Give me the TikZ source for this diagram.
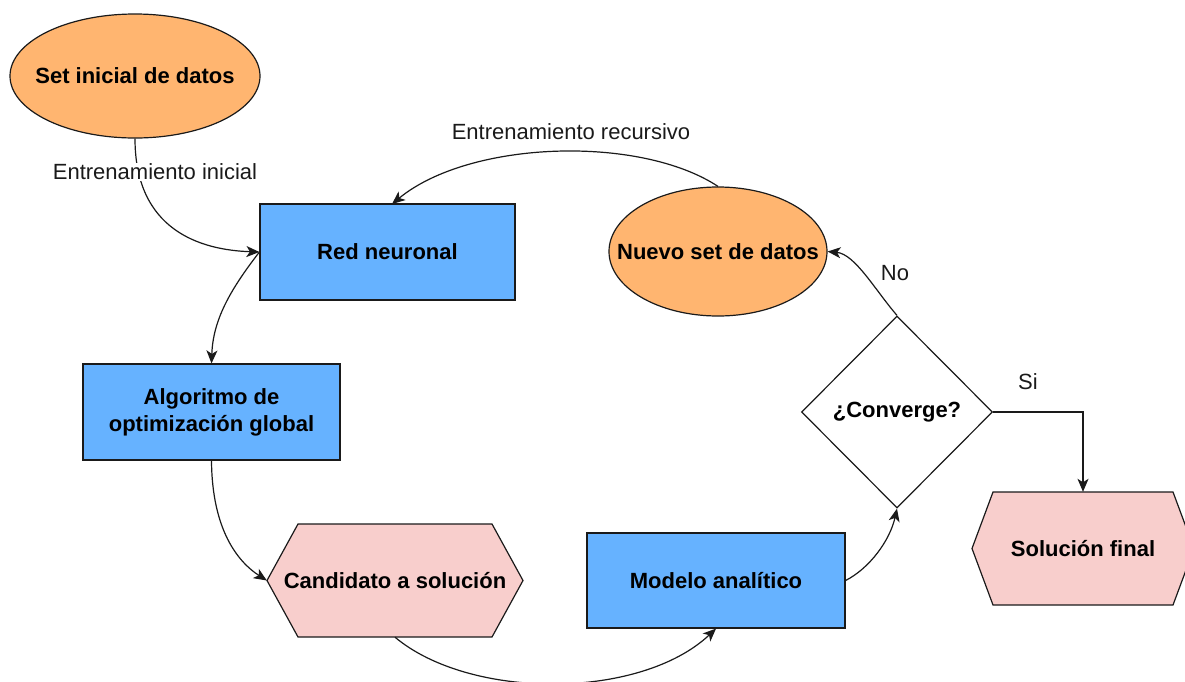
\documentclass[tikz,border=0pt]{standalone}
\usepackage{fontspec}
\setmainfont{Liberation Sans}
\usetikzlibrary{shapes.geometric,arrows.meta}
\definecolor{orangefill}{HTML}{FFB570}
\definecolor{bluefill}{HTML}{66B2FF}
\definecolor{pinkfill}{HTML}{F8CECC}
\definecolor{edgecol}{HTML}{1A1A1A}
\tikzset{
  base/.style={draw=edgecol, line width=1.2pt, inner sep=0pt, align=center,
    font=\fontsize{22}{27}\selectfont\bfseries, text=black},
  oval/.style={base, ellipse, fill=orangefill},
  ovaltext/.style={inner sep=0pt, font=\fontsize{22}{27}\selectfont\bfseries, text=black},
  box/.style={base, rectangle, fill=bluefill},
  decision/.style={base, diamond, fill=white},
  hexbody/.style={draw=edgecol, line width=1.2pt, fill=pinkfill},
  hexlabel/.style={rectangle, inner sep=0pt, align=center,
    font=\fontsize{22}{27}\selectfont\bfseries, text=black},
  conn/.style={draw=edgecol, line width=1.2pt, -{Stealth[length=13pt,width=11pt,inset=3.5pt]}},
  edgelabel/.style={inner sep=1pt, font=\fontsize{22}{27}\selectfont, text=edgecol},
}
\begin{document}
\begin{tikzpicture}[x=1pt, y=-1pt]
\path[use as bounding box] (0,0) rectangle (1185,681);

% nodes
\node[oval, minimum width=250pt, minimum height=124pt,
  label={[ovaltext]center:Set inicial de datos}] (setini) at (135,76) {};
\node[box, minimum width=255pt, minimum height=96pt] (red) at (387.5,252) {Red neuronal};
\node[oval, minimum width=218pt, minimum height=129pt,
  label={[ovaltext]center:Nuevo set de datos}] (nuevo) at (718,251.5) {};
\node[box, minimum width=257pt, minimum height=96pt] (algo) at (211.5,412) {Algoritmo de\\optimización global};
\node[box, minimum width=258pt, minimum height=95pt] (modelo) at (716,580.5) {Modelo analítico};
\node[decision, minimum width=191pt, minimum height=192pt] (conv) at (897,412) {¿Converge?};

% hexagons
\draw[hexbody] (267,580.5) -- (298,524) -- (492,524) -- (523,580.5) -- (492,637) -- (298,637) -- cycle;
\node[hexlabel, minimum width=256pt, minimum height=113pt] (cand) at (395,580.5) {Candidato a solución};
\draw[hexbody] (972,548.5) -- (993,492) -- (1173,492) -- (1194,548.5) -- (1173,605) -- (993,605) -- cycle;
\node[hexlabel, minimum width=222pt, minimum height=113pt] (sol) at (1083,548.5) {Solución final};

% connectors
\draw[conn] (setini.south) .. controls (135,230) and (200,250) .. (red.west);
\node[edgelabel, fill=white] (lblini) at (155,172) {Entrenamiento inicial};
\draw[conn] (nuevo.north) .. controls (640,135) and (470,140) .. (392,204);
\node[edgelabel] (lblrec) at (571,132) {Entrenamiento recursivo};
\draw[conn] (red.west) .. controls (230,290) and (213,320) .. (algo.north);
\draw[conn] (algo.south) .. controls (212,530) and (238,562) .. (cand.west);
\draw[conn] (cand.south) .. controls (470,700) and (640,700) .. (modelo.south);
\draw[conn] (modelo.east) .. controls (870,568) and (890,540) .. (conv.south);
\draw[conn] (conv.north) .. controls (875,290) and (855,254) .. (nuevo.east);
\node[edgelabel] (lblno) at (895,273) {No};
\draw[conn] (conv.east) -| (sol.north);
\node[edgelabel] (lblsi) at (1028,382) {Si};
\end{tikzpicture}
\end{document}
